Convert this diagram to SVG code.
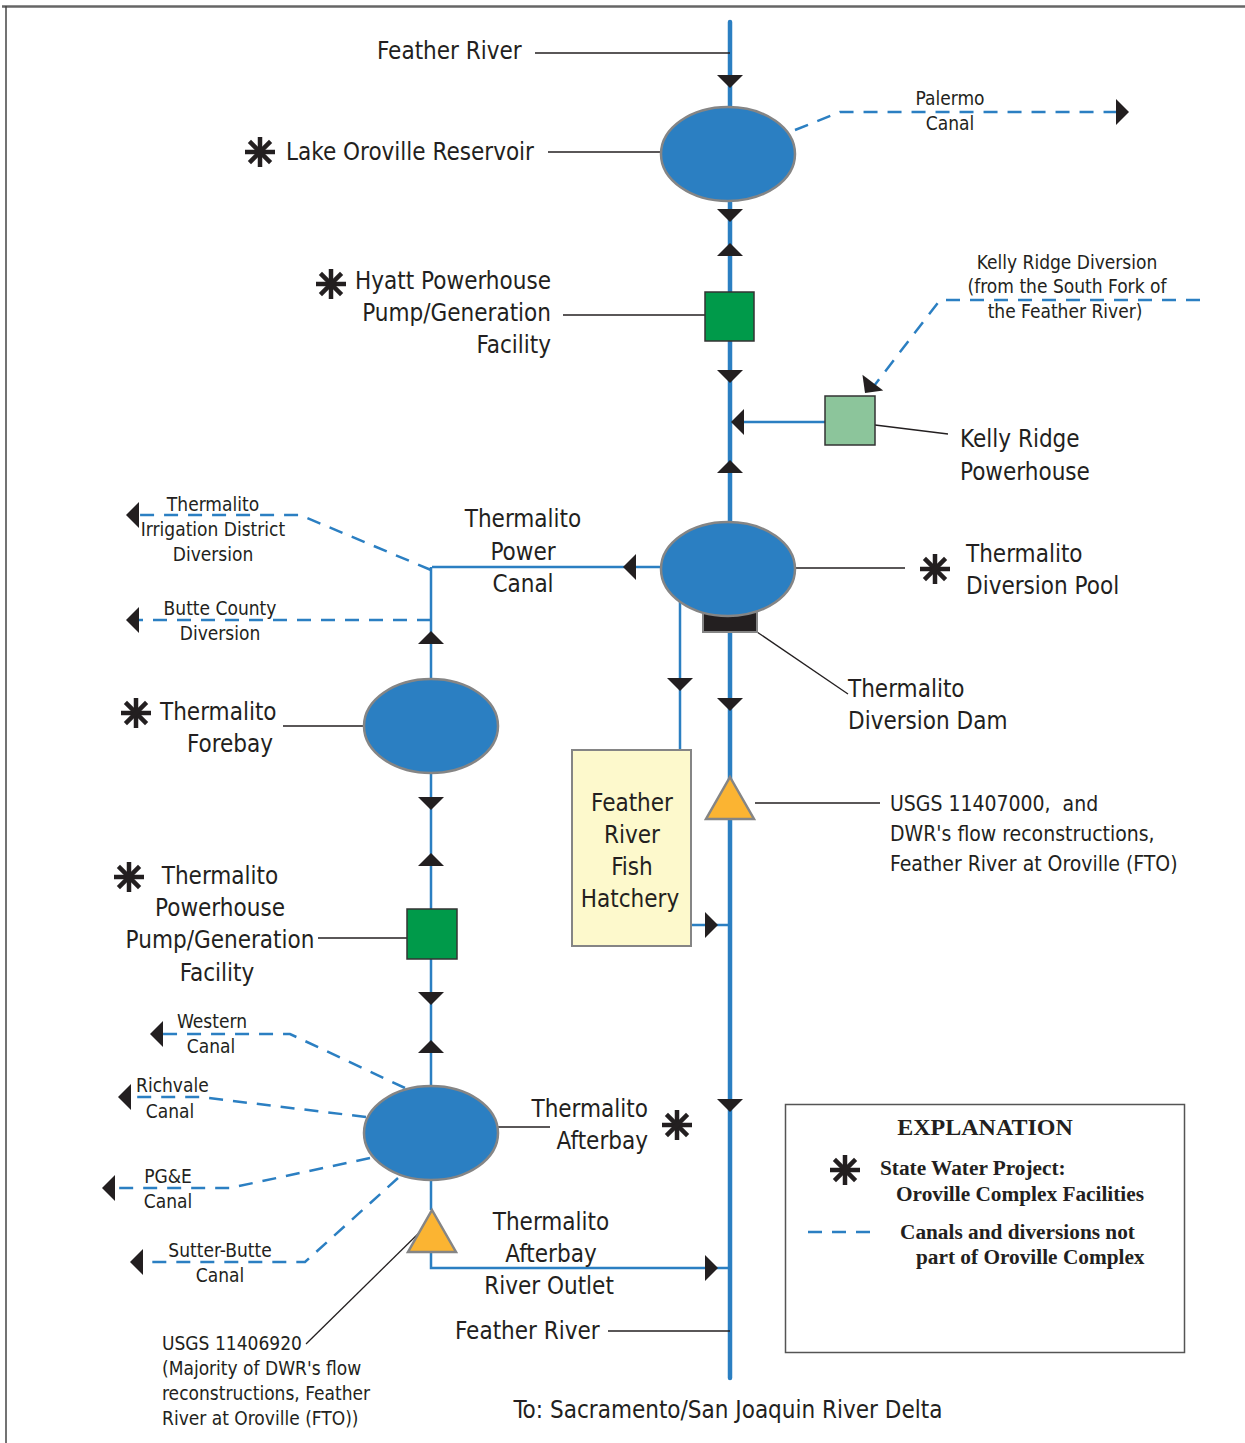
<svg xmlns="http://www.w3.org/2000/svg" xmlns:xlink="http://www.w3.org/1999/xlink" width="1245" height="1443" viewBox="0 0 1245 1443">
<style>
.t{font-family:"Liberation Sans Narrow","DejaVu Sans Condensed","Liberation Sans",sans-serif;font-size:24px;fill:#231f20}
.s{font-size:19px}
.m{text-anchor:middle}
.e{text-anchor:end}
.leg{font-family:"Liberation Serif",serif;font-weight:bold;font-size:21.3px;fill:#231f20}
.river{stroke:#2b7fc2;stroke-width:4.5;fill:none;stroke-linecap:round}
.canal{stroke:#2b7fc2;stroke-width:2.5;fill:none}
.dash{stroke:#2b7fc2;stroke-width:2.5;fill:none;stroke-dasharray:14 10}
.lead{stroke:#231f20;stroke-width:1.3;fill:none}
.res{fill:#2b7fc2;stroke:#858585;stroke-width:2.5}
.tri{fill:#fbb432;stroke:#858585;stroke-width:2.5}
.arr{fill:#231f20}
</style>
<defs>
<path id="ar" d="M0,0 L-13,-13 L-13,13 Z"/>
<g id="ast" stroke="#231f20" stroke-width="4.5">
<line x1="-15" y1="0" x2="15" y2="0"/>
<line x1="0" y1="-15" x2="0" y2="15"/>
<line x1="-10.6" y1="-10.6" x2="10.6" y2="10.6"/>
<line x1="-10.6" y1="10.6" x2="10.6" y2="-10.6"/>
</g>
</defs>
<rect width="1245" height="1443" fill="#ffffff"/>
<line x1="2" y1="6.5" x2="1245" y2="6.5" stroke="#666" stroke-width="2.5"/>
<line x1="6" y1="6" x2="6" y2="1443" stroke="#444" stroke-width="1.5"/>

<g id="connectors">
<line class="river" x1="730" y1="22" x2="730" y2="1378"/>
<line class="canal" x1="662" y1="567" x2="432" y2="567"/>
<line class="canal" x1="431" y1="567" x2="431" y2="1210"/>
<line class="canal" x1="680" y1="600" x2="680" y2="750"/>
<line class="canal" x1="691" y1="925" x2="730" y2="925"/>
<line class="canal" x1="825" y1="422" x2="730" y2="422"/>
<polyline class="canal" points="431,1250 431,1268 730,1268"/>
<polyline class="dash" points="795,130 840,112 1117,112"/>
<polyline class="dash" points="1200,300 940,300 874,386"/>
<polyline class="dash" points="431,570 300,515 138,515"/>
<line class="dash" x1="431" y1="620" x2="138" y2="620"/>
<polyline class="dash" points="405,1088 290,1034 162,1034"/>
<polyline class="dash" points="366,1117 200,1097 130,1097"/>
<polyline class="dash" points="370,1158 230,1188 114,1188"/>
<polyline class="dash" points="398,1178 305,1262 142,1262"/>
<g class="arr">
<use xlink:href="#ar" transform="translate(730,88) rotate(90)"/>
<use xlink:href="#ar" transform="translate(730,222) rotate(90)"/>
<use xlink:href="#ar" transform="translate(730,243) rotate(-90)"/>
<use xlink:href="#ar" transform="translate(730,383) rotate(90)"/>
<use xlink:href="#ar" transform="translate(731,422) rotate(180)"/>
<use xlink:href="#ar" transform="translate(730,460) rotate(-90)"/>
<use xlink:href="#ar" transform="translate(730,711) rotate(90)"/>
<use xlink:href="#ar" transform="translate(730,1112) rotate(90)"/>
<use xlink:href="#ar" transform="translate(718,925)"/>
<use xlink:href="#ar" transform="translate(718,1268)"/>
<use xlink:href="#ar" transform="translate(623,567) rotate(180)"/>
<use xlink:href="#ar" transform="translate(680,691) rotate(90)"/>
<use xlink:href="#ar" transform="translate(431,631) rotate(-90)"/>
<use xlink:href="#ar" transform="translate(431,810) rotate(90)"/>
<use xlink:href="#ar" transform="translate(431,853) rotate(-90)"/>
<use xlink:href="#ar" transform="translate(431,1005) rotate(90)"/>
<use xlink:href="#ar" transform="translate(431,1040) rotate(-90)"/>
<use xlink:href="#ar" transform="translate(1129,112)"/>
<use xlink:href="#ar" transform="translate(865,393) rotate(127)"/>
<use xlink:href="#ar" transform="translate(126,515) rotate(180)"/>
<use xlink:href="#ar" transform="translate(126,620) rotate(180)"/>
<use xlink:href="#ar" transform="translate(150,1034) rotate(180)"/>
<use xlink:href="#ar" transform="translate(118,1097) rotate(180)"/>
<use xlink:href="#ar" transform="translate(102,1188) rotate(180)"/>
<use xlink:href="#ar" transform="translate(130,1262) rotate(180)"/>
</g>
<g class="lead">
<line x1="535" y1="53" x2="730" y2="53"/>
<line x1="548" y1="152" x2="661" y2="152"/>
<line x1="563" y1="315" x2="705" y2="315"/>
<line x1="875" y1="425" x2="948" y2="434"/>
<line x1="795" y1="568" x2="905" y2="568"/>
<line x1="757" y1="632" x2="848" y2="694"/>
<line x1="755" y1="803" x2="880" y2="803"/>
<line x1="283" y1="726" x2="364" y2="726"/>
<line x1="318" y1="938" x2="407" y2="938"/>
<line x1="498" y1="1127" x2="550" y2="1127"/>
<line x1="424" y1="1228" x2="306" y2="1344"/>
<line x1="608" y1="1331" x2="730" y2="1331"/>
</g>
</g>

<g id="feather-river-top"><text class="t" x="377" y="59">Feather River</text></g>

<g id="lake-oroville">
<ellipse class="res" cx="728" cy="154" rx="67" ry="47"/>
<use xlink:href="#ast" x="260" y="152"/>
<text class="t" x="286" y="160">Lake Oroville Reservoir</text>
</g>

<g id="palermo-canal">
<text class="t s m" x="950" y="105">Palermo</text>
<text class="t s m" x="950" y="130">Canal</text>
</g>

<g id="hyatt">
<rect x="705" y="292" width="49" height="49" fill="#009a4a" stroke="#333" stroke-width="1.5"/>
<use xlink:href="#ast" x="331" y="284"/>
<text class="t e" x="551" y="289">Hyatt Powerhouse</text>
<text class="t e" x="551" y="321">Pump/Generation</text>
<text class="t e" x="551" y="353">Facility</text>
</g>

<g id="kelly-ridge-diversion">
<text class="t s m" x="1067" y="269">Kelly Ridge Diversion</text>
<text class="t s m" x="1067" y="293">(from the South Fork of</text>
<text class="t s m" x="1065" y="318">the Feather River)</text>
</g>

<g id="kelly-ridge-powerhouse">
<rect x="825" y="396" width="50" height="49" fill="#8cc59b" stroke="#333" stroke-width="1.5"/>
<text class="t" x="960" y="447">Kelly Ridge</text>
<text class="t" x="960" y="480">Powerhouse</text>
</g>

<g id="diversion-dam">
<rect x="703" y="612" width="54" height="20" fill="#231f20" stroke="#858585" stroke-width="2"/>
<text class="t" x="848" y="697">Thermalito</text>
<text class="t" x="848" y="729">Diversion Dam</text>
</g>

<g id="diversion-pool">
<ellipse class="res" cx="728" cy="569" rx="67" ry="47"/>
<use xlink:href="#ast" x="935" y="569"/>
<text class="t" x="966" y="562">Thermalito</text>
<text class="t" x="966" y="594">Diversion Pool</text>
</g>

<g id="power-canal">
<text class="t m" x="523" y="527">Thermalito</text>
<text class="t m" x="523" y="560">Power</text>
<text class="t m" x="523" y="592">Canal</text>
</g>

<g id="tid-diversion">
<text class="t s m" x="213" y="511">Thermalito</text>
<text class="t s m" x="213" y="536">Irrigation District</text>
<text class="t s m" x="213" y="561">Diversion</text>
</g>

<g id="butte-county">
<text class="t s m" x="220" y="615">Butte County</text>
<text class="t s m" x="220" y="640">Diversion</text>
</g>

<g id="forebay">
<ellipse class="res" cx="431" cy="726" rx="67" ry="47"/>
<use xlink:href="#ast" x="136" y="713"/>
<text class="t" x="160" y="720">Thermalito</text>
<text class="t e" x="273" y="752">Forebay</text>
</g>

<g id="hatchery">
<rect x="572" y="750" width="119" height="196" fill="#fdf9cc" stroke="#858585" stroke-width="2"/>
<text class="t m" x="632" y="811">Feather</text>
<text class="t m" x="632" y="843">River</text>
<text class="t m" x="632" y="875">Fish</text>
<text class="t m" x="630" y="907">Hatchery</text>
</g>

<g id="usgs-11407000">
<path class="tri" d="M730,777 L754,819 L706,819 Z"/>
<text class="t" x="890" y="811" style="font-size:21px;white-space:pre" xml:space="preserve">USGS 11407000,  and</text>
<text class="t" x="890" y="841" style="font-size:21px">DWR's flow reconstructions,</text>
<text class="t" x="890" y="871" style="font-size:21px">Feather River at Oroville (FTO)</text>
</g>

<g id="thermalito-powerhouse">
<rect x="407" y="909" width="50" height="50" fill="#009a4a" stroke="#333" stroke-width="1.5"/>
<use xlink:href="#ast" x="129" y="877"/>
<text class="t m" x="220" y="884">Thermalito</text>
<text class="t m" x="220" y="916">Powerhouse</text>
<text class="t m" x="220" y="948">Pump/Generation</text>
<text class="t m" x="217" y="981">Facility</text>
</g>

<g id="canals-west">
<text class="t s m" x="212" y="1028">Western</text>
<text class="t s m" x="211" y="1053">Canal</text>
<text class="t s" x="136" y="1092">Richvale</text>
<text class="t s m" x="170" y="1118">Canal</text>
<text class="t s m" x="168" y="1183">PG&amp;E</text>
<text class="t s m" x="168" y="1208">Canal</text>
<text class="t s m" x="220" y="1257">Sutter-Butte</text>
<text class="t s m" x="220" y="1282">Canal</text>
</g>

<g id="afterbay">
<ellipse class="res" cx="431" cy="1133" rx="67" ry="47"/>
<use xlink:href="#ast" x="677" y="1125"/>
<text class="t e" x="648" y="1117">Thermalito</text>
<text class="t e" x="648" y="1149">Afterbay</text>
</g>

<g id="afterbay-outlet">
<path class="tri" d="M432,1210 L456,1252 L408,1252 Z"/>
<text class="t m" x="551" y="1230">Thermalito</text>
<text class="t m" x="551" y="1262">Afterbay</text>
<text class="t m" x="549" y="1294">River Outlet</text>
</g>

<g id="usgs-11406920">
<text class="t s" x="162" y="1350">USGS 11406920</text>
<text class="t s" x="162" y="1375">(Majority of DWR's flow</text>
<text class="t s" x="162" y="1400">reconstructions, Feather</text>
<text class="t s" x="162" y="1425">River at Oroville (FTO))</text>
</g>

<g id="feather-river-bottom">
<text class="t" x="455" y="1339">Feather River</text>
<text class="t m" x="728" y="1418">To: Sacramento/San Joaquin River Delta</text>
</g>

<g id="legend">
<rect x="785.5" y="1104.5" width="399" height="248" fill="none" stroke="#555" stroke-width="1.5"/>
<text class="leg m" x="985" y="1135" style="font-size:24px">EXPLANATION</text>
<use xlink:href="#ast" x="845" y="1170"/>
<text class="leg" x="880" y="1175">State Water Project:</text>
<text class="leg" x="896" y="1201">Oroville Complex Facilities</text>
<line class="dash" x1="808" y1="1232" x2="878" y2="1232"/>
<text class="leg" x="900" y="1239">Canals and diversions not</text>
<text class="leg" x="916" y="1264">part of Oroville Complex</text>
</g>
</svg>
